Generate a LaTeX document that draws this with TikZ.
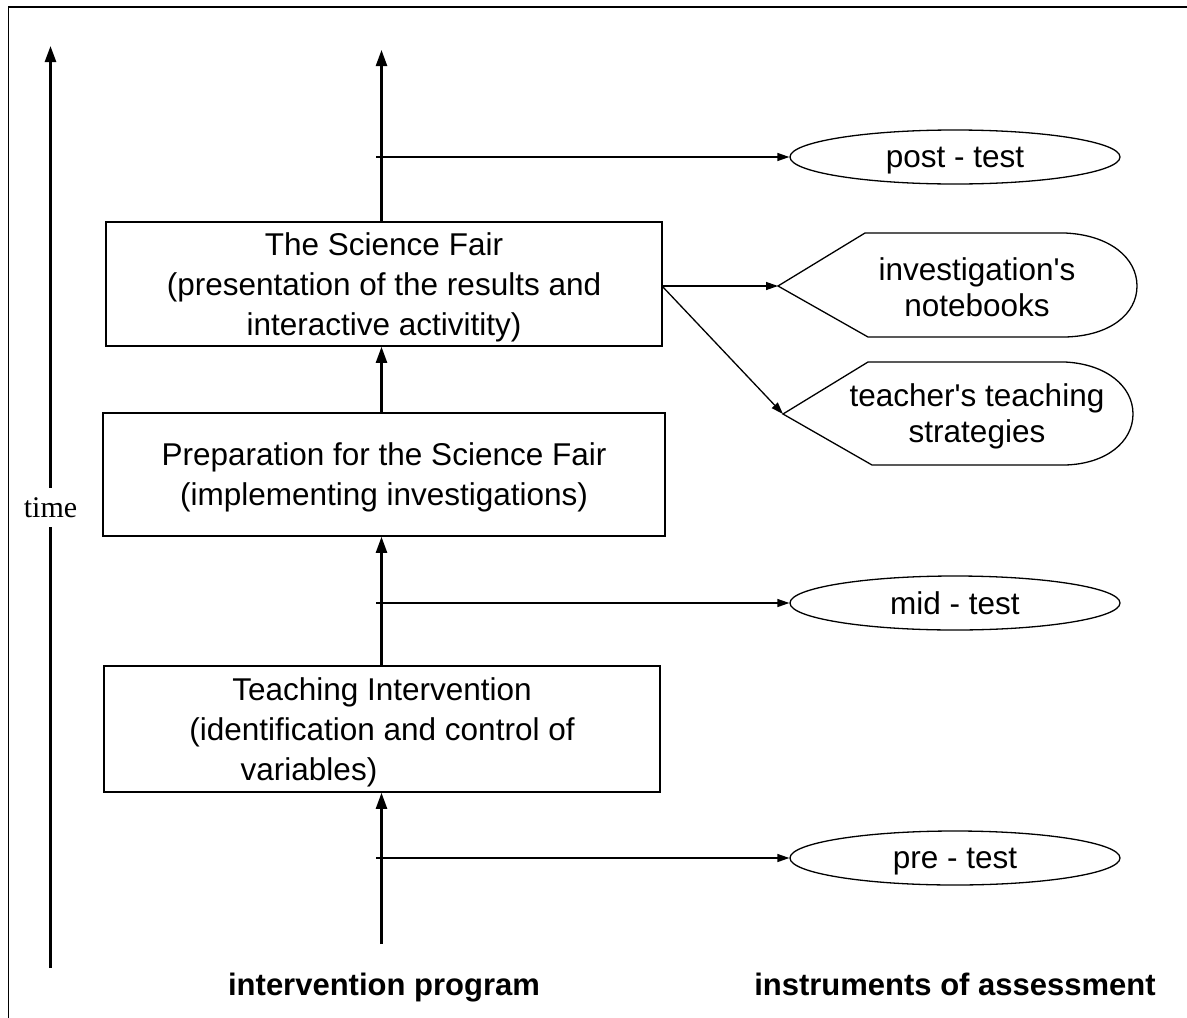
\documentclass[tikz,border=0pt]{standalone}
\usepackage{fontspec}
\newfontfamily\arial{Liberation Sans}
\newfontfamily\timesfont{Liberation Serif}
\usetikzlibrary{arrows.meta,shapes.geometric}
\tikzset{
  txt/.style={font=\arial\fontsize{31.5}{40}\selectfont, align=center},
  stage/.style={txt, draw, line width=1.6pt, inner sep=0pt, text depth=0pt},
  test/.style={txt, draw, ellipse, line width=1.3pt, inner sep=0pt,
               text depth=-3pt, minimum width=330pt, minimum height=54pt},
  display/.style={draw, line width=1.3pt},
  disptext/.style={font=\arial\fontsize{31.5}{36}\selectfont, align=center},
  flow/.style={line width=2.3pt, -{Triangle[length=16pt,width=11pt]}},
  link/.style={line width=1.3pt, -{Triangle[length=12pt,width=8pt]}},
  head/.style={font=\arial\bfseries\fontsize{31}{38}\selectfont, anchor=base},
}
\begin{document}
\begin{tikzpicture}[x=1pt,y=-1pt]
\useasboundingbox (0,0) rectangle (1187,1018);

% frame (left and top edges)
\draw[line width=1.8pt] (8.5,1018) -- (8.5,7) -- (1187,7);

% time axis
\node[font=\timesfont\fontsize{30}{30}\selectfont, inner sep=0pt,
      minimum height=39pt] (time) at (50.5,507.5) {time};
\coordinate (tbot) at (50.5,968);
\coordinate (ttop) at (50.5,46);
\draw[line width=2.5pt] (tbot) -- (time.south);
\draw[line width=2.5pt, -{Triangle[length=16pt,width=11pt]}] (time.north) -- (ttop);

% stages of the programme
\node[stage, minimum width=556pt, minimum height=124pt] (sf) at (384,284)
  {The Science Fair\\(presentation of the results and\\interactive activitity)};
\node[stage, minimum width=562pt, minimum height=123pt] (prep) at (384,474.5)
  {Preparation for the Science Fair\\(implementing investigations)};
\node[stage, minimum width=556pt, minimum height=126pt] (teach) at (382,729)
  {Teaching Intervention\\(identification and control of\\variables)\hspace*{146pt}};

% main line of the programme
\coordinate (m) at (381.5,0);
\coordinate (mtop) at (381.5,50);
\coordinate (mbot) at (381.5,944);
\draw[flow] (mbot) -- (m |- teach.south);
\draw[flow] (m |- teach.north) -- (m |- prep.south);
\draw[flow] (m |- prep.north) -- (m |- sf.south);
\draw[flow] (m |- sf.north) -- (mtop);

% tests
\node[test] (post) at (955,157) {post - test};
\node[test] (mid) at (955,603) {mid - test};
\node[test] (pre) at (955,858) {pre - test};
\coordinate (tpost) at (376,157);
\coordinate (tmid) at (376,603);
\coordinate (tpre) at (376,858);
\draw[link] (tpost) -- (post.west);
\draw[link] (tmid) -- (mid.west);
\draw[link] (tpre) -- (pre.west);

% display shapes for the other instruments
\coordinate (nbp) at (778,286);
\draw[display] (nbp) -- (865,233) -- (1065,233)
  .. controls (1110,235) and (1137,258) .. (1137,286)
  .. controls (1137,314) and (1110,336) .. (1065,337)
  -- (868,337) -- cycle;
\node[disptext] (nb) at (977,287) {investigation's\\notebooks};

\coordinate (ttp) at (783,414);
\draw[display] (ttp) -- (868,362) -- (1065,362)
  .. controls (1106,364) and (1133,386) .. (1133,414)
  .. controls (1133,442) and (1106,464) .. (1065,465)
  -- (872,465) -- cycle;
\node[disptext] (tt) at (977,416) {teacher's teaching\\strategies};

\coordinate (sfr) at (662,286);
\draw[link] (sfr) -- (nbp);
\draw[link] (sfr) -- (ttp);

% column headings
\node[head] (hprog) at (384,995) {intervention program};
\node[head] (hinst) at (955,995) {instruments of assessment};
\end{tikzpicture}
\end{document}
